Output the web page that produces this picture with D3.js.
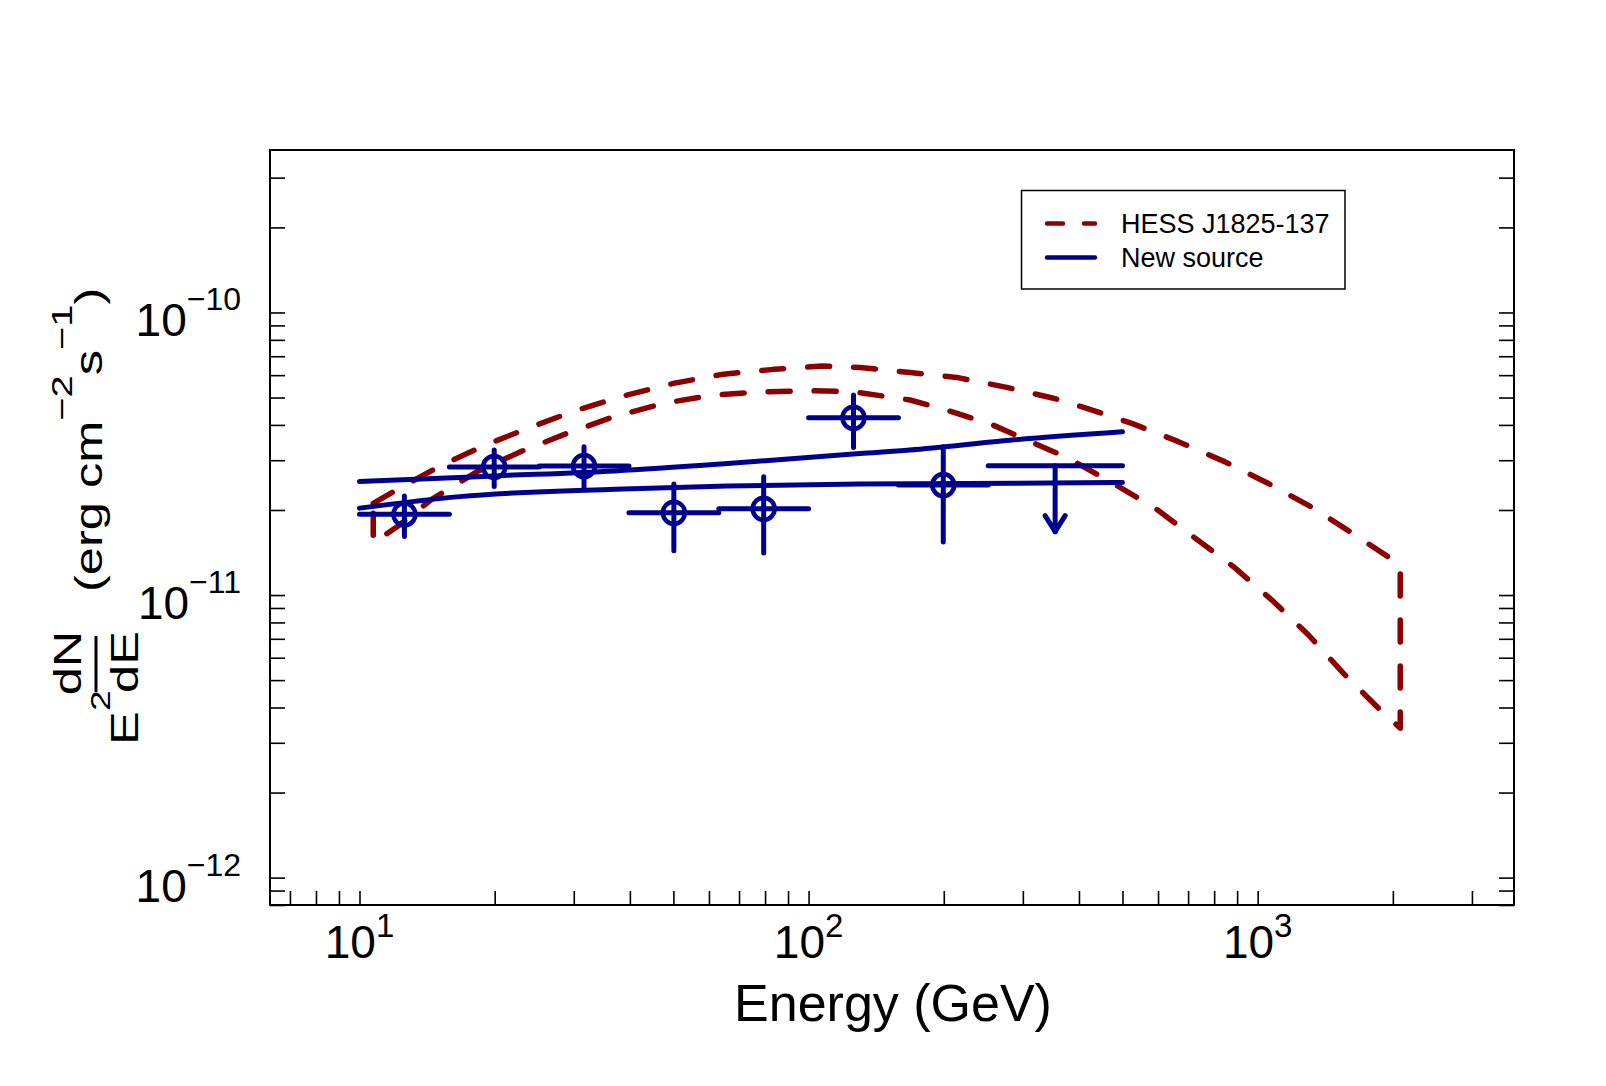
<!DOCTYPE html>
<html>
<head>
<meta charset="utf-8">
<script src="https://cdn.jsdelivr.net/npm/d3@7"></script>
<style>
  html, body { margin: 0; padding: 0; background: #ffffff; }
  svg { display: block; }
  text { font-family: "Liberation Sans", Arial, Helvetica, sans-serif; fill: #000; }
</style>
</head>
<body>
<svg id="chart" width="1606" height="1086"></svg>
<script>
// ---------------- data ----------------
const xMajorTicks = [10, 100, 1000];
const xMajorExponents = ["1", "2", "3"];
const yMajorTicks = [1e-12, 1e-11, 1e-10];
const yMajorExponents = ["\u221212", "\u221211", "\u221210"];

// HESS J1825-137 band (dashed, dark red)
const hessUpperE = [10.73, 11.89, 14.98, 18.87, 23.97, 30.46, 39.37, 50.0, 64.6, 83.5, 107, 130.2, 168.3, 213.8, 276.3, 351, 416.5, 524.6, 666, 846.4, 1057, 1331, 1649, 1973, 2077];
const hessUpperF = [2.11e-11, 2.32e-11, 2.84e-11, 3.37e-11, 3.92e-11, 4.51e-11, 5.10e-11, 5.61e-11, 6.05e-11, 6.29e-11, 6.46e-11, 6.39e-11, 6.13e-11, 5.89e-11, 5.43e-11, 4.97e-11, 4.58e-11, 4.05e-11, 3.49e-11, 2.96e-11, 2.48e-11, 2.03e-11, 1.63e-11, 1.35e-11, 1.27e-11];
const hessLowerE = [10.73, 12.1, 14.48, 16.46, 18.24, 22.78, 28.93, 36.75, 47.5, 61.4, 79.3, 102.5, 125.9, 168.3, 203.1, 257.9, 300.8, 379, 469.4, 591, 725.6, 883.4, 1075.5, 1297.6, 1553, 1874, 2077];
const hessLowerF = [1.53e-11, 1.74e-11, 2.18e-11, 2.47e-11, 2.73e-11, 3.21e-11, 3.73e-11, 4.27e-11, 4.77e-11, 5.10e-11, 5.24e-11, 5.28e-11, 5.24e-11, 4.90e-11, 4.51e-11, 3.99e-11, 3.58e-11, 3.05e-11, 2.52e-11, 2.03e-11, 1.59e-11, 1.26e-11, 9.6e-12, 7.22e-12, 5.28e-12, 3.92e-12, 3.38e-12];

// New source butterfly (solid, navy)
const newUpperE = [10, 20, 37, 66, 130, 168, 281, 500];
const newUpperF = [2.52e-11, 2.64e-11, 2.75e-11, 2.92e-11, 3.17e-11, 3.26e-11, 3.53e-11, 3.78e-11];
const newLowerE = [10, 16.7, 37, 66, 130, 500];
const newLowerF = [2.03e-11, 2.23e-11, 2.37e-11, 2.43e-11, 2.47e-11, 2.50e-11];

// New source SED points
const ptE   = [12.59, 19.95, 31.62, 50.12, 79.43, 125.9, 199.5];
const ptElo = [10, 15.85, 25.12, 39.81, 63.10, 100, 158.5];
const ptEhi = [15.85, 25.12, 39.81, 63.10, 100, 158.5, 251.2];
const ptF   = [1.93e-11, 2.84e-11, 2.86e-11, 1.955e-11, 2.02e-11, 4.24e-11, 2.45e-11];
const ptFlo = [1.61e-11, 2.42e-11, 2.40e-11, 1.435e-11, 1.41e-11, 3.33e-11, 1.54e-11];
const ptFhi = [2.24e-11, 3.26e-11, 3.35e-11, 2.47e-11, 2.62e-11, 5.10e-11, 3.35e-11];

// Upper limit
const ulE = [354];
const ulElo = [251.2];
const ulEhi = [500];
const ulF = [2.87e-11];

const legendLabels = ["HESS J1825-137", "New source"];

// ---------------- layout ----------------
const RED = "#8b0000";
const BLUE = "#00008e";
const frame = { left: 270, right: 1514, top: 150, bottom: 905 };

const svg = d3.select("#chart");
svg.append("rect").attr("width", 1606).attr("height", 1086).attr("fill", "#fff");

const x = d3.scaleLog().domain([6.32, 3722]).range([frame.left, frame.right]);
const y = d3.scaleLog().domain([8.0e-13, 3.758e-10]).range([frame.bottom, frame.top]);

function logTicks(lo, hi) {
  const out = [];
  for (let e = Math.floor(Math.log10(lo)); e <= Math.ceil(Math.log10(hi)); e++) {
    for (let m = 1; m <= 9; m++) {
      const v = m * Math.pow(10, e);
      if (v >= lo && v <= hi) out.push(v);
    }
  }
  return out;
}
const xTickVals = logTicks(x.domain()[0], x.domain()[1]);
const yTickVals = logTicks(y.domain()[0], y.domain()[1]);

const gx = svg.append("g").attr("transform", `translate(0,${frame.bottom})`)
  .call(d3.axisBottom(x).tickValues(xTickVals).tickSize(-14).tickFormat(""));
const gyL = svg.append("g").attr("transform", `translate(${frame.left},0)`)
  .call(d3.axisLeft(y).tickValues(yTickVals).tickSize(-15).tickFormat(""));
const gyR = svg.append("g").attr("transform", `translate(${frame.right},0)`)
  .call(d3.axisRight(y).tickValues(yTickVals).tickSize(-15).tickFormat(""));
[gx, gyL, gyR].forEach(g => {
  g.select(".domain").remove();
  g.selectAll(".tick line").attr("stroke", "#000").attr("stroke-width", 1.6);
});

svg.append("rect")
  .attr("x", frame.left).attr("y", frame.top)
  .attr("width", frame.right - frame.left).attr("height", frame.bottom - frame.top)
  .attr("fill", "none").attr("stroke", "#000").attr("stroke-width", 2);

xMajorTicks.forEach((v, i) => {
  const t = svg.append("text")
    .attr("x", x(v)).attr("y", 958)
    .attr("text-anchor", "middle")
    .style("font-size", "46px");
  t.append("tspan").text("10");
  t.append("tspan").attr("dy", -21).style("font-size", "33px").text(xMajorExponents[i]);
});

yMajorTicks.forEach((v, i) => {
  const t = svg.append("text")
    .attr("x", 241).attr("y", y(v) + 24)
    .attr("text-anchor", "end")
    .style("font-size", "46px");
  t.append("tspan").text("10");
  t.append("tspan").attr("dy", -26).style("font-size", "32px").text(yMajorExponents[i]);
});

svg.append("text")
  .attr("x", 893).attr("y", 1021)
  .attr("text-anchor", "middle")
  .style("font-size", "52px")
  .text("Energy (GeV)");

const k = 1.33;
const gt = svg.append("g").attr("transform", `rotate(-90) scale(${k},1)`);
gt.append("text").attr("x", -745 / k).attr("y", 138).style("font-size", "38px").text("E");
gt.append("text").attr("x", -711 / k).attr("y", 110).style("font-size", "28px").text("2");
gt.append("text").attr("x", -662 / k).attr("y", 138).attr("text-anchor", "middle").style("font-size", "38px").text("dE");
gt.append("text").attr("x", -663 / k).attr("y", 81).attr("text-anchor", "middle").style("font-size", "38px").text("dN");
gt.append("line").attr("x1", -692 / k).attr("x2", -636 / k).attr("y1", 96).attr("y2", 96)
  .attr("stroke", "#000").attr("stroke-width", 3);
const yt = gt.append("text").attr("x", -592 / k).attr("y", 102).style("font-size", "38px");
yt.append("tspan").text("(erg cm");
yt.append("tspan").attr("dy", -30).style("font-size", "30px").text("\u22122");
yt.append("tspan").attr("dy", 30).text("s");
yt.append("tspan").attr("dy", -30).style("font-size", "30px").text("\u22121");
yt.append("tspan").attr("dy", 30).text(")");

svg.append("clipPath").attr("id", "plotclip").append("rect")
  .attr("x", frame.left).attr("y", frame.top)
  .attr("width", frame.right - frame.left).attr("height", frame.bottom - frame.top);
const plot = svg.append("g").attr("clip-path", "url(#plotclip)");

const hessPts = hessUpperE.map((e, i) => [e, hessUpperF[i]])
  .concat(hessLowerE.map((e, i) => [e, hessLowerF[i]]).reverse());
const lineLin = d3.line().x(d => x(d[0])).y(d => y(d[1]));
plot.append("path")
  .attr("d", lineLin(hessPts) + "Z")
  .attr("fill", "none").attr("stroke", RED).attr("stroke-width", 5.5)
  .attr("stroke-dasharray", "22,24").attr("stroke-linecap", "round").attr("stroke-linejoin", "round");

const lineSmooth = d3.line().x(d => x(d[0])).y(d => y(d[1])).curve(d3.curveMonotoneX);
[[newUpperE, newUpperF], [newLowerE, newLowerF]].forEach(([E, F]) => {
  plot.append("path")
    .attr("d", lineSmooth(E.map((e, i) => [e, F[i]])))
    .attr("fill", "none").attr("stroke", BLUE).attr("stroke-width", 5).attr("stroke-linecap", "round");
});

const pts = ptE.map((e, i) => ({ e, elo: ptElo[i], ehi: ptEhi[i], f: ptF[i], flo: ptFlo[i], fhi: ptFhi[i] }));
const pg = plot.append("g").attr("stroke", BLUE).attr("stroke-width", 5).attr("stroke-linecap", "round").attr("fill", "none");
pg.selectAll("line.h").data(pts).join("line").attr("class", "h")
  .attr("x1", d => x(d.elo)).attr("x2", d => x(d.ehi)).attr("y1", d => y(d.f)).attr("y2", d => y(d.f));
pg.selectAll("line.v").data(pts).join("line").attr("class", "v")
  .attr("x1", d => x(d.e)).attr("x2", d => x(d.e)).attr("y1", d => y(d.flo)).attr("y2", d => y(d.fhi));
pg.selectAll("circle").data(pts).join("circle")
  .attr("cx", d => x(d.e)).attr("cy", d => y(d.f)).attr("r", 11).attr("stroke-width", 4.5);

const uls = ulE.map((e, i) => ({ e, elo: ulElo[i], ehi: ulEhi[i], f: ulF[i] }));
uls.forEach(d => {
  const cx = x(d.e), cy = y(d.f), tip = cy + 66;
  pg.append("line").attr("x1", x(d.elo)).attr("x2", x(d.ehi)).attr("y1", cy).attr("y2", cy);
  pg.append("line").attr("x1", cx).attr("x2", cx).attr("y1", cy).attr("y2", tip);
  pg.append("path").attr("d", `M${cx - 10},${tip - 16}L${cx},${tip}L${cx + 10},${tip - 16}`)
    .attr("stroke-linejoin", "round");
});

const lg = svg.append("g");
lg.append("rect").attr("x", 1021.5).attr("y", 190.5).attr("width", 323.5).attr("height", 98.5)
  .attr("fill", "#fff").attr("stroke", "#000").attr("stroke-width", 1.5);
const legRows = [
  { label: legendLabels[0], color: RED, dash: "16,21", cy: 223.5 },
  { label: legendLabels[1], color: BLUE, dash: null, cy: 257.5 }
];
legRows.forEach(r => {
  const l = lg.append("line").attr("x1", 1047).attr("x2", 1095).attr("y1", r.cy).attr("y2", r.cy)
    .attr("stroke", r.color).attr("stroke-width", 4.5).attr("stroke-linecap", "round");
  if (r.dash) l.attr("stroke-dasharray", r.dash);
  lg.append("text").attr("x", 1121).attr("y", r.cy + 9.5).style("font-size", "27px").text(r.label);
});
</script>
</body>
</html>
